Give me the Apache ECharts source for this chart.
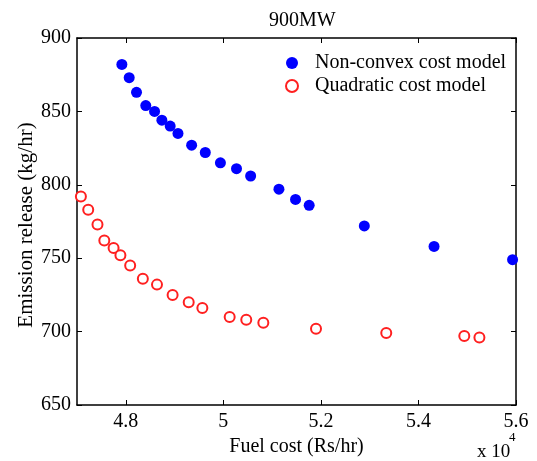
<!DOCTYPE html>
<html>
<head>
<meta charset="utf-8">
<script src="https://cdn.jsdelivr.net/npm/echarts@6/dist/echarts.min.js"></script>
<style>
  html, body { margin: 0; padding: 0; background: #fff; }
  #main { width: 537px; height: 461px; }
</style>
</head>
<body>
<div id="main"></div>
<script>
// fuel cost (Rs/hr) and emission (kg/hr)
var nonConvexCost = [47920, 48070, 48220, 48410, 48590, 48740, 48910, 49070, 49350, 49630,
  49940, 50270, 50560, 51140, 51480, 51760, 52890, 54320, 55930];
var nonConvexEmission = [882, 873, 863, 854, 850, 844, 840, 835, 827, 822,
  815, 811, 806, 797, 790, 786, 772, 758, 749];

var quadCost = [47080, 47230, 47420, 47560, 47750, 47890, 48090, 48350, 48640, 48960,
  49290, 49570, 50130, 50470, 50820, 51900, 53340, 54940, 55250];
var quadEmission = [792, 783, 773, 762, 757, 752, 745, 736, 732, 725,
  720, 716, 710, 708, 706, 702, 699, 697, 696];

var xTicks = [48000, 50000, 52000, 54000, 56000];
var seriesNames = ['Non-convex cost model', 'Quadratic cost model'];

function pairs(xs, ys) {
  return xs.map(function (x, i) { return [x, ys[i]]; });
}

var fontFam = '"Liberation Serif", "Times New Roman", serif';
var myChart = echarts.init(document.getElementById('main'));

var tickStyle = { inside: true, length: 5, lineStyle: { color: '#000', width: 1 } };
var option = {
  animation: false,
  textStyle: { fontFamily: fontFam, color: '#000' },
  title: {
    text: '900MW',
    left: 264,
    top: 6,
    textStyle: { fontFamily: fontFam, fontSize: 20, fontWeight: 'normal', color: '#000' }
  },
  grid: { left: 77, right: 21, top: 38, bottom: 56, outerBoundsMode: 'none' },
  legend: {
    orient: 'vertical',
    left: 280,
    top: 48,
    itemGap: 3,
    itemWidth: 12,
    itemHeight: 12,
    textStyle: { fontFamily: fontFam, fontSize: 20, color: '#000', padding: [0, 0, 0, 12] },
    data: seriesNames
  },
  xAxis: [{
    type: 'value',
    min: 47000,
    max: 56000,
    name: 'Fuel cost (Rs/hr)',
    nameLocation: 'middle',
    nameGap: 30,
    nameTextStyle: { fontFamily: fontFam, fontSize: 20, color: '#000' },
    axisLine: { show: true, lineStyle: { color: '#000', width: 1.5 } },
    axisTick: Object.assign({ customValues: xTicks }, tickStyle),
    axisLabel: {
      customValues: xTicks,
      fontFamily: fontFam, fontSize: 20, color: '#000', margin: 7,
      formatter: function (v) { return String(+(v / 10000).toFixed(1)); }
    },
    splitLine: { show: false }
  }, {
    type: 'value',
    position: 'top',
    min: 47000,
    max: 56000,
    axisLine: { show: true, lineStyle: { color: '#000', width: 1.5 } },
    axisTick: Object.assign({ customValues: xTicks }, tickStyle),
    axisLabel: { show: false },
    splitLine: { show: false }
  }],
  yAxis: [{
    type: 'value',
    min: 650,
    max: 900,
    interval: 50,
    axisLine: { show: true, lineStyle: { color: '#000', width: 1.5 } },
    axisTick: tickStyle,
    axisLabel: { fontFamily: fontFam, fontSize: 20, color: '#000', margin: 6 },
    splitLine: { show: false }
  }, {
    type: 'value',
    position: 'right',
    min: 650,
    max: 900,
    interval: 50,
    axisLine: { show: true, lineStyle: { color: '#000', width: 1.5 } },
    axisTick: tickStyle,
    axisLabel: { show: false },
    splitLine: { show: false }
  }],
  graphic: [{
    // y axis title, placed by hand (v6 pushes axis names clear of the labels)
    type: 'text',
    x: 26,
    y: 225,
    rotation: Math.PI / 2,
    style: {
      text: 'Emission release (kg/hr)',
      fontFamily: fontFam,
      fontSize: 21,
      fill: '#000',
      textAlign: 'center',
      textVerticalAlign: 'middle'
    }
  }, {
    type: 'text',
    left: 477,
    top: 443,
    style: {
      text: 'x 10',
      fontFamily: fontFam,
      fontSize: 19,
      fill: '#000'
    }
  }, {
    type: 'text',
    left: 509,
    top: 431,
    style: { text: '4', fontFamily: fontFam, fontSize: 13, fill: '#000' }
  }],
  series: [{
    name: seriesNames[0],
    type: 'scatter',
    symbol: 'circle',
    symbolSize: 11,
    itemStyle: { color: '#0000ff', opacity: 1 },
    data: pairs(nonConvexCost, nonConvexEmission)
  }, {
    name: seriesNames[1],
    type: 'scatter',
    symbol: 'emptyCircle',
    symbolSize: 10,
    itemStyle: { color: '#ff2020', borderWidth: 1, opacity: 1 },
    data: pairs(quadCost, quadEmission)
  }]
};
myChart.setOption(option);
</script>
</body>
</html>
